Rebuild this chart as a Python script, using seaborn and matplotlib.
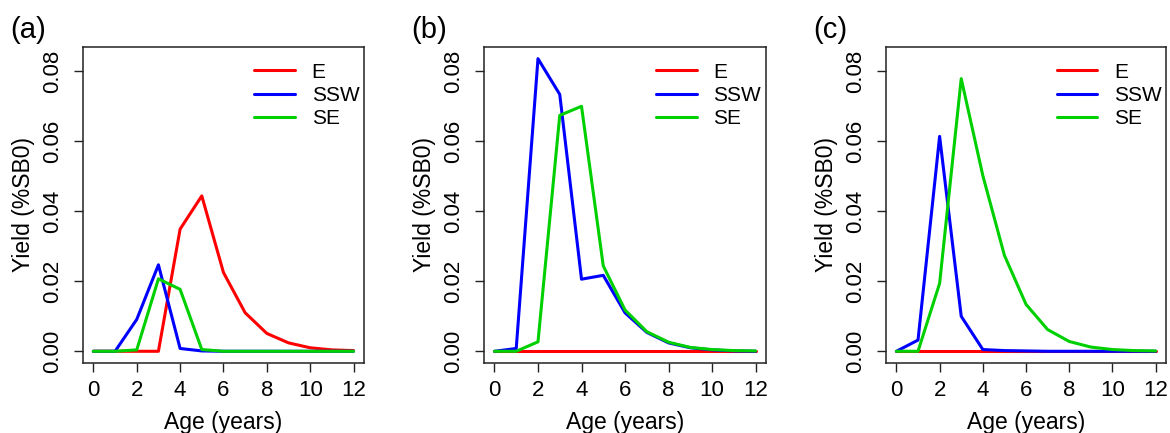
import matplotlib
matplotlib.use("Agg")
import numpy as np
import pandas as pd
import seaborn as sns
import matplotlib.pyplot as plt

# Yield per age class (fraction of SB0) for each stock, by scenario
ages = list(range(13))
stocks = ["E", "SSW", "SE"]

a_E = [0, 0, 0, 0, 0.0349, 0.0444, 0.0225, 0.0110, 0.0051, 0.0024, 0.0010, 0.0004, 0.0002]
a_SSW = [0, 0, 0.0091, 0.0247, 0.0008, 0.0001, 0, 0, 0, 0, 0, 0, 0]
a_SE = [0, 0, 0.0004, 0.0207, 0.0177, 0.0005, 0, 0, 0, 0, 0, 0, 0]

b_E = [0] * 13
b_SSW = [0, 0.0008, 0.0836, 0.0734, 0.0206, 0.0217, 0.0110, 0.0054, 0.0024, 0.0010, 0.0004, 0.0001, 0]
b_SE = [0, 0, 0.0027, 0.0674, 0.0700, 0.0244, 0.0118, 0.0056, 0.0026, 0.0011, 0.0005, 0.0002, 0.0001]

c_E = [0] * 13
c_SSW = [0, 0.0032, 0.0614, 0.0100, 0.0005, 0.0002, 0.0001, 0, 0, 0, 0, 0, 0]
c_SE = [0, 0, 0.0194, 0.0779, 0.0502, 0.0274, 0.0134, 0.0062, 0.0028, 0.0012, 0.0005, 0.0002, 0.0001]

panel_labels = ["(a)", "(b)", "(c)"]
panels = [(a_E, a_SSW, a_SE), (b_E, b_SSW, b_SE), (c_E, c_SSW, c_SE)]
colors = {"E": "#FF0000", "SSW": "#0000FF", "SE": "#00D000"}

sns.set_style("ticks")
plt.rcParams["font.family"] = ["Liberation Sans", "DejaVu Sans"]
plt.rcParams["axes.edgecolor"] = "#222222"
plt.rcParams["text.color"] = "black"
plt.rcParams["axes.labelcolor"] = "black"

fig = plt.figure(figsize=(11.7, 4.33), dpi=100)
lefts = [0.0709, 0.4137, 0.7573]
widths = [0.2402, 0.2410, 0.2393]
bottom, height = 0.1617, 0.7298

ymax = 0.0836
for i, (series, lab) in enumerate(zip(panels, panel_labels)):
    ax = fig.add_axes([lefts[i], bottom, widths[i], height])
    rows = []
    for s, vals in zip(stocks, series):
        for age, v in zip(ages, vals):
            rows.append({"Age": age, "Yield": v, "Stock": s})
    df = pd.DataFrame(rows)
    sns.lineplot(data=df, x="Age", y="Yield", hue="Stock", hue_order=stocks,
                 palette=colors, linewidth=2.2, legend=False, ax=ax)
    ax.set_xlim(-0.48, 12.48)
    ax.set_ylim(-0.04 * ymax, 1.04 * ymax)
    ax.set_xticks(range(0, 13, 2))
    ax.set_yticks([0, 0.02, 0.04, 0.06, 0.08])
    ax.set_yticklabels(["0.00", "0.02", "0.04", "0.06", "0.08"], rotation=90, va="center")
    ax.tick_params(axis="both", direction="out", length=6.5, width=1, labelsize=16,
                   color="#222222", labelcolor="black")
    ax.tick_params(axis="x", pad=6)
    ax.tick_params(axis="y", pad=8)
    for sp in ax.spines.values():
        sp.set_visible(True)
        sp.set_linewidth(1.1)
    ax.set_xlabel("Age (years)", fontsize=16.5, labelpad=7)
    ax.set_ylabel("Yield (%SB0)", fontsize=16.5, labelpad=5)
    ax.legend(ax.lines[:3], stocks, loc="upper left", bbox_to_anchor=(0.61, 0.95),
              frameon=False, fontsize=15, handlelength=1.95, handletextpad=0.8,
              labelspacing=0.2, borderpad=0, borderaxespad=0)
    fig.text(lefts[i] - 0.062, 1 - 30 / 433, lab, fontsize=21, va="center", ha="left")

fig.savefig("out.png", dpi=100)
